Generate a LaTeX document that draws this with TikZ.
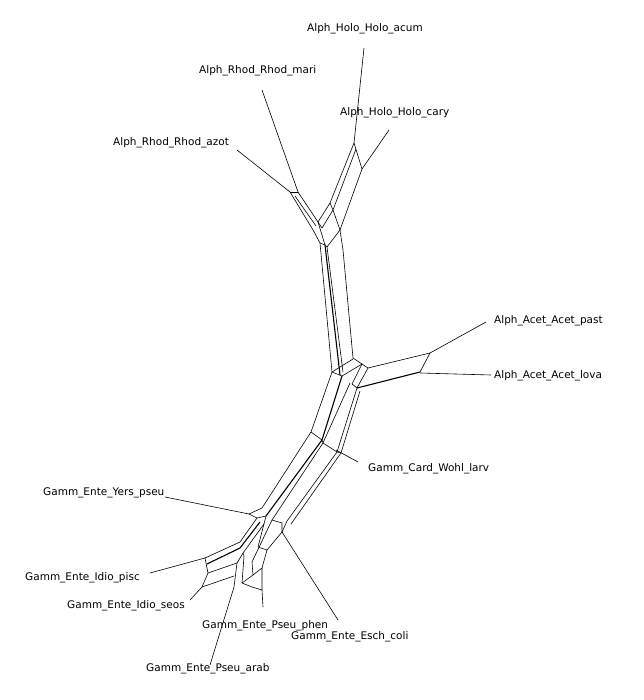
\documentclass[tikz,border=0pt]{standalone}
\usepackage{fontspec}
\newfontfamily\labfont{DejaVu Sans}
\begin{document}
\begin{tikzpicture}[x=1pt,y=-1pt,
  net/.style={line width=0.6pt,line join=round},
  heavy/.style={line width=1.1pt,line join=round},
  lab/.style={font={\labfont\fontsize{10.5}{12}\selectfont},anchor=west,inner sep=0pt}]
\useasboundingbox[fill=white] (0,0) rectangle (643,700);

% taxon labels
\node[lab] (acum) at (307,29)  {Alph\_Holo\_Holo\_acum};
\node[lab] (mari) at (199,71)  {Alph\_Rhod\_Rhod\_mari};
\node[lab] (cary) at (340,113) {Alph\_Holo\_Holo\_cary};
\node[lab] (azot) at (113,143) {Alph\_Rhod\_Rhod\_azot};
\node[lab] (past) at (494,321) {Alph\_Acet\_Acet\_past};
\node[lab] (lova) at (494,376) {Alph\_Acet\_Acet\_lova};
\node[lab] (larv) at (368,469) {Gamm\_Card\_Wohl\_larv};
\node[lab] (yers) at (43,493)  {Gamm\_Ente\_Yers\_pseu};
\node[lab] (pisc) at (25,578)  {Gamm\_Ente\_Idio\_pisc};
\node[lab] (seos) at (67,606)  {Gamm\_Ente\_Idio\_seos};
\node[lab] (phen) at (202,626) {Gamm\_Ente\_Pseu\_phen};
\node[lab] (coli) at (291,637) {Gamm\_Ente\_Esch\_coli};
\node[lab] (arab) at (146,669) {Gamm\_Ente\_Pseu\_arab};

% leaf tips
\coordinate (tacum) at (364,48);
\coordinate (tcary) at (389,130);
\coordinate (tmari) at (262,90);
\coordinate (tazot) at (237,150);
\coordinate (tpast) at (486,322);
\coordinate (tlova) at (491,375);
\coordinate (tlarv) at (358,462);
\coordinate (tyers) at (165,497);
\coordinate (tpisc) at (150,573);
\coordinate (tseos) at (190,600);
\coordinate (tphen) at (263,607);
\coordinate (tcoli) at (338,620);
\coordinate (tarab) at (210,665);

% pendant edges
\draw[net] (tacum) -- (354,143);
\draw[net] (tcary) -- (362,169);
\draw[net] (tmari) -- (298,192);
\draw[net] (tazot) -- (290,192);
\draw[net] (tpast) -- (430,353);
\draw[net] (tlova) -- (420,373);
\draw[net] (tlarv) -- (336,450);
\draw[net] (tyers) -- (249,514);
\draw[net] (tpisc) -- (205,558);
\draw[net] (tseos) -- (202,587);
\draw[net] (tphen) -- (262,590);
\draw[net] (tcoli) -- (282,532);
\draw[net] (tarab) -- (234,587);

% Holo band
\draw[net] (354,143) -- (362,169);
\draw[net] (354,143) -- (330,203) -- (318,222);
\draw[net] (356,149) -- (333,210) -- (322,228);
\draw[net] (362,169) -- (340,230) -- (343,250) -- (353,358);
\draw[net] (330,203) -- (333,210) -- (340,230);
\draw[net] (340,230) -- (327,247);

% Rhod band
\draw[net] (290,192) -- (298,192);
\draw[net] (290,192) -- (313,230) -- (320,243);
\draw[net] (298,192) -- (318,222) -- (325,245);
\draw[net] (295,196) -- (316,226);
\draw[net] (318,222) -- (322,228);
\draw[net] (320,243) -- (325,245) -- (327,247);

% upper trunk
\draw[net] (320,243) -- (332,372);
\draw[heavy] (325,245) -- (340,375);
\draw[net] (327,247) -- (343,372);

% Acet band
\draw[net] (353,358) -- (368,368) -- (430,353) -- (420,372);
\draw[heavy] (357,388) -- (420,372);
\draw[net] (368,368) -- (357,388);
\draw[net] (332,372) -- (342,376);
\draw[net] (332,372) -- (353,359);
\draw[net] (342,376) -- (362,364);
\draw[net] (362,364) -- (352,384) -- (357,388);

% lower trunk
\draw[net] (332,372) -- (311,432) -- (262,508);
\draw[heavy] (342,376) -- (322,440) -- (266,516);
\draw[net] (350,383) -- (323,443) -- (272,520);
\draw[net] (357,388) -- (337,452) -- (287,521);
\draw[net] (360,391) -- (341,453) -- (291,524);
\draw[net] (311,432) -- (322,440) -- (323,443) -- (337,452) -- (341,453);

% Gamm_Ente cluster
\draw[net] (249,514) -- (262,508);
\draw[net] (249,514) -- (257,518) -- (266,516);
\draw[net] (257,518) -- (240,542) -- (205,558) -- (208,573) -- (202,587);
\draw[heavy] (260,522) -- (240,548) -- (207,564);
\draw[net] (264,524) -- (243,553) -- (237,563);
\draw[net] (208,573) -- (237,563);
\draw[net] (202,587) -- (234,576);
\draw[net] (237,563) -- (234,587);
\draw[net] (244,556) -- (242,583) -- (252,587) -- (262,590);
\draw[net] (252,562) -- (253,575) -- (262,568) -- (262,590);
\draw[net] (258,547) -- (267,550) -- (262,568);
\draw[net] (267,550) -- (282,532);
\draw[net] (272,520) -- (282,523) -- (282,532);
\draw[net] (287,521) -- (282,532);
\draw[net] (266,516) -- (258,547);
\draw[net] (272,520) -- (252,562);
\draw[net] (243,553) -- (244,556);
\draw[net] (253,575) -- (242,583);
\end{tikzpicture}
\end{document}
